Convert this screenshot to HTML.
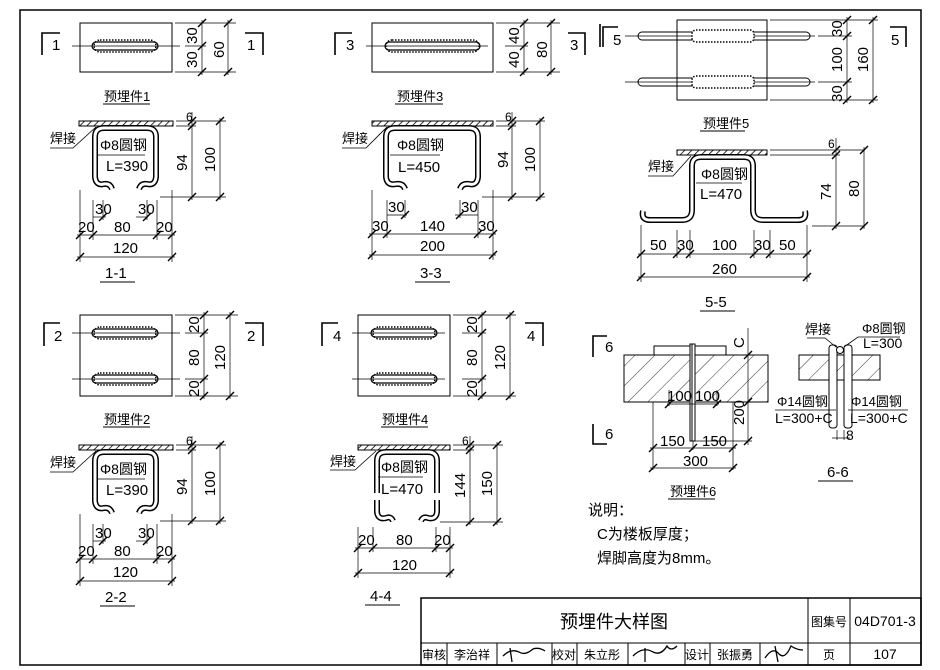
<!DOCTYPE html>
<html><head><meta charset="utf-8"><style>
html,body{margin:0;padding:0;background:#fff;}
svg{display:block;font-family:"Liberation Sans","Noto Sans CJK SC",sans-serif;}
text{fill:#000;}
</style></head><body>
<svg width="940" height="670" viewBox="0 0 940 670" xmlns="http://www.w3.org/2000/svg">
<defs>
<pattern id="hat" width="5" height="5" patternUnits="userSpaceOnUse" patternTransform="rotate(45)"><line x1="0" y1="0" x2="0" y2="5" stroke="#000" stroke-width="1.6"/></pattern>
<pattern id="hat2" width="14" height="14" patternUnits="userSpaceOnUse" patternTransform="rotate(45)"><line x1="0" y1="0" x2="0" y2="14" stroke="#000" stroke-width="0.8"/></pattern>
<symbol id="tk" overflow="visible"><line x1="-4" y1="4" x2="4" y2="-4" stroke="#000" stroke-width="1.4"/></symbol>
</defs>
<g stroke="#000" fill="none" stroke-width="1">
<!-- frame -->
<rect x="20" y="10" width="901" height="655" stroke-width="1.5"/>
<!-- title block -->
<rect x="421" y="598" width="500" height="67" stroke-width="1.5"/>
<line x1="421" y1="643" x2="921" y2="643"/>
<line x1="808" y1="598" x2="808" y2="665"/>
<line x1="850" y1="598" x2="850" y2="665"/>
<line x1="447" y1="643" x2="447" y2="665"/><line x1="497" y1="643" x2="497" y2="665"/><line x1="552" y1="643" x2="552" y2="665"/><line x1="577" y1="643" x2="577" y2="665"/><line x1="628" y1="643" x2="628" y2="665"/><line x1="685" y1="643" x2="685" y2="665"/><line x1="710" y1="643" x2="710" y2="665"/><line x1="760" y1="643" x2="760" y2="665"/>
</g>
<g font-size="18" text-anchor="middle"><text x="614" y="628">预埋件大样图</text></g>
<g font-size="12" text-anchor="middle">
<text x="829" y="626">图集号</text><text x="885" y="626" font-size="14">04D701-3</text>
<text x="434" y="659">审核</text><text x="472" y="659">李治祥</text><text x="564" y="659">校对</text><text x="602" y="659">朱立彤</text><text x="697" y="659">设计</text><text x="735" y="659">张振勇</text><text x="829" y="659">页</text><text x="885" y="659" font-size="14">107</text>
</g>
<g stroke="#000" fill="none" stroke-width="1.3">
<path d="M503 656 q8 -8 16 -4 q6 4 14 -3 q6 -2 12 2 M510 648 l2 14"/>
<path d="M633 656 q10 -10 20 -4 q8 4 14 -6 q4 6 10 0 M645 648 l0 14"/>
<path d="M765 658 q8 -12 14 -4 q6 6 12 -8 q6 4 12 4 M775 646 l3 16"/>
</g>

<!-- ============ PLAN 1 ============ -->
<g stroke="#000" fill="none" stroke-width="1">
<rect x="80" y="23" width="92" height="49"/>
<line x1="72" y1="46" x2="180" y2="46" stroke-width="0.7"/>
<rect x="92" y="42" width="66" height="8" rx="4" stroke-width="1.2"/>
<rect x="94" y="40" width="62" height="12" rx="6" stroke-dasharray="1.5 1.5" stroke-width="1.5"/>
<!-- dims -->
<line x1="175" y1="23" x2="236" y2="23" stroke-width="0.7"/><line x1="175" y1="72" x2="236" y2="72" stroke-width="0.7"/><line x1="185" y1="46" x2="206" y2="46" stroke-width="0.7"/>
<line x1="202" y1="20" x2="202" y2="75" stroke-width="0.7"/><line x1="228" y1="20" x2="228" y2="75" stroke-width="0.7"/>
<!-- markers -->
<path d="M42 55 V33 H60" stroke-width="1.6"/><path d="M263 55 V33 H245" stroke-width="1.6"/>
<line x1="103" y1="104" x2="150" y2="104"/>
</g>
<use href="#tk" x="202" y="23"/><use href="#tk" x="202" y="46"/><use href="#tk" x="202" y="72"/><use href="#tk" x="228" y="23"/><use href="#tk" x="228" y="72"/>
<g font-size="15"><text x="52" y="50">1</text><text x="247" y="50">1</text>
<text transform="translate(197,44) rotate(-90)">30</text><text transform="translate(197,68) rotate(-90)">30</text><text transform="translate(224,58) rotate(-90)">60</text></g>
<text x="104" y="101" font-size="13">预埋件1</text>

<!-- ============ SECTION 1 (reused for 2) ============ -->
<g id="sec1">
<g stroke="#000" fill="none">
<rect x="79" y="121" width="94" height="5" fill="url(#hat)" stroke-width="1"/>
<path d="M112 189 Q110 183 104 184 Q96 186 95 177 L95 137 Q95 128 104 128 L147 128 Q156 128 156 137 L156 177 Q155 186 147 184 Q141 183 139 189" stroke-width="6"/>
<path d="M112 189 Q110 183 104 184 Q96 186 95 177 L95 137 Q95 128 104 128 L147 128 Q156 128 156 137 L156 177 Q155 186 147 184 Q141 183 139 189" stroke="#fff" stroke-width="3"/>
<line x1="97" y1="155" x2="145" y2="155" stroke-width="0.8"/>
<path d="M96 127 L73 148 H50" stroke-width="0.8"/>
<!-- right dims -->
<line x1="176" y1="121" x2="226" y2="121" stroke-width="0.7"/><line x1="176" y1="126" x2="196" y2="126" stroke-width="0.7"/><line x1="160" y1="197" x2="226" y2="197" stroke-width="0.7"/>
<line x1="192" y1="112" x2="192" y2="200" stroke-width="0.7"/><line x1="220" y1="118" x2="220" y2="200" stroke-width="0.7"/>
<!-- bottom dims -->
<line x1="80" y1="190" x2="80" y2="262" stroke-width="0.7"/><line x1="172" y1="190" x2="172" y2="262" stroke-width="0.7"/>
<line x1="93" y1="200" x2="93" y2="240" stroke-width="0.7"/><line x1="103" y1="200" x2="103" y2="220" stroke-width="0.7"/>
<line x1="157" y1="200" x2="157" y2="240" stroke-width="0.7"/><line x1="147" y1="200" x2="147" y2="220" stroke-width="0.7"/>
<line x1="93" y1="217" x2="106" y2="217" stroke-width="0.7"/><line x1="136" y1="217" x2="147" y2="217" stroke-width="0.7"/>
<line x1="77" y1="235" x2="175" y2="235" stroke-width="0.7"/><line x1="77" y1="257" x2="175" y2="257" stroke-width="0.7"/>
</g>
<use href="#tk" x="192" y="121"/><use href="#tk" x="192" y="126"/><use href="#tk" x="192" y="197"/><use href="#tk" x="220" y="121"/><use href="#tk" x="220" y="197"/>
<use href="#tk" x="103" y="217"/><use href="#tk" x="147" y="217"/>
<use href="#tk" x="80" y="235"/><use href="#tk" x="93" y="235"/><use href="#tk" x="157" y="235"/><use href="#tk" x="172" y="235"/><use href="#tk" x="80" y="257"/><use href="#tk" x="172" y="257"/>
<g font-size="15">
<text x="100" y="150" font-size="14">Φ8圆钢</text><text x="106" y="171">L=390</text>
<text transform="translate(187,171) rotate(-90)">94</text><text transform="translate(215,172) rotate(-90)">100</text>
<text x="186" y="121" font-size="12">6</text>
<text x="95" y="214">30</text><text x="138" y="214">30</text>
<text x="78" y="232">20</text><text x="114" y="232">80</text><text x="156" y="232">20</text>
<text x="113" y="253">120</text>
</g>
<text x="50" y="143" font-size="13">焊接</text>
</g>
<line x1="100" y1="282" x2="135" y2="282" stroke="#000"/>
<text x="105" y="278" font-size="15">1-1</text>
<use href="#sec1" y="324"/>
<line x1="100" y1="606" x2="135" y2="606" stroke="#000"/>
<text x="105" y="602" font-size="15">2-2</text>

<!-- ============ PLAN 2 ============ -->
<g stroke="#000" fill="none" stroke-width="1">
<rect x="80" y="315" width="92" height="81"/>
<line x1="72" y1="333" x2="180" y2="333" stroke-width="0.7"/><line x1="72" y1="379" x2="180" y2="379" stroke-width="0.7"/>
<rect x="94" y="327" width="62" height="12" rx="6" stroke-dasharray="1.5 1.5" stroke-width="1.5"/><rect x="92" y="329" width="66" height="8" rx="4" stroke-width="1.2"/>
<rect x="94" y="373" width="62" height="12" rx="6" stroke-dasharray="1.5 1.5" stroke-width="1.5"/><rect x="92" y="375" width="66" height="8" rx="4" stroke-width="1.2"/>
<line x1="175" y1="315" x2="238" y2="315" stroke-width="0.7"/><line x1="175" y1="396" x2="238" y2="396" stroke-width="0.7"/><line x1="185" y1="333" x2="208" y2="333" stroke-width="0.7"/><line x1="185" y1="379" x2="208" y2="379" stroke-width="0.7"/>
<line x1="204" y1="312" x2="204" y2="399" stroke-width="0.7"/><line x1="230" y1="312" x2="230" y2="399" stroke-width="0.7"/>
<path d="M44 346 V323 H60" stroke-width="1.6"/><path d="M263 346 V323 H245" stroke-width="1.6"/>
<line x1="103" y1="427" x2="150" y2="427"/>
</g>
<use href="#tk" x="204" y="315"/><use href="#tk" x="204" y="333"/><use href="#tk" x="204" y="379"/><use href="#tk" x="204" y="396"/><use href="#tk" x="230" y="315"/><use href="#tk" x="230" y="396"/>
<g font-size="15"><text x="54" y="341">2</text><text x="247" y="341">2</text>
<text transform="translate(199,333) rotate(-90)">20</text><text transform="translate(199,366) rotate(-90)">80</text><text transform="translate(199,397) rotate(-90)">20</text><text transform="translate(225,370) rotate(-90)">120</text></g>
<text x="104" y="424" font-size="13">预埋件2</text>

<!-- ============ PLAN 3 ============ -->
<g stroke="#000" fill="none" stroke-width="1">
<rect x="372" y="23" width="121" height="49"/>
<line x1="366" y1="46" x2="488" y2="46" stroke-width="0.7"/>
<rect x="385" y="42" width="95" height="8" rx="4" stroke-width="1.2"/>
<rect x="386" y="40" width="93" height="12" rx="6" stroke-dasharray="1.5 1.5" stroke-width="1.5"/>
<line x1="496" y1="23" x2="560" y2="23" stroke-width="0.7"/><line x1="496" y1="72" x2="560" y2="72" stroke-width="0.7"/><line x1="505" y1="46" x2="528" y2="46" stroke-width="0.7"/>
<line x1="524" y1="20" x2="524" y2="75" stroke-width="0.7"/><line x1="551" y1="20" x2="551" y2="75" stroke-width="0.7"/>
<path d="M335 55 V33 H352" stroke-width="1.6"/><path d="M585 55 V33 H568" stroke-width="1.6"/>
<line x1="395" y1="104" x2="443" y2="104"/>
</g>
<use href="#tk" x="524" y="23"/><use href="#tk" x="524" y="46"/><use href="#tk" x="524" y="72"/><use href="#tk" x="551" y="23"/><use href="#tk" x="551" y="72"/>
<g font-size="15"><text x="346" y="50">3</text><text x="570" y="50">3</text>
<text transform="translate(519,44) rotate(-90)">40</text><text transform="translate(519,68) rotate(-90)">40</text><text transform="translate(547,58) rotate(-90)">80</text></g>
<text x="397" y="101" font-size="13">预埋件3</text>

<!-- ============ SECTION 3 ============ -->
<g stroke="#000" fill="none">
<rect x="372" y="121" width="121" height="5" fill="url(#hat)"/>
<g id="r3"><path d="M405 189 Q403 183 396 184 Q387 186 386 177 L386 137 Q386 128 395 128 L469 128 Q478 128 478 137 L478 177 Q477 186 469 184 Q462 183 460 189" stroke-width="6"/>
<path d="M405 189 Q403 183 396 184 Q387 186 386 177 L386 137 Q386 128 395 128 L469 128 Q478 128 478 137 L478 177 Q477 186 469 184 Q462 183 460 189" stroke="#fff" stroke-width="3"/></g>
<line x1="390" y1="155" x2="440" y2="155" stroke-width="0.8"/>
<path d="M387 127 L366 148 H342" stroke-width="0.8"/>
<line x1="496" y1="121" x2="545" y2="121" stroke-width="0.7"/><line x1="496" y1="126" x2="516" y2="126" stroke-width="0.7"/><line x1="482" y1="197" x2="545" y2="197" stroke-width="0.7"/>
<line x1="512" y1="112" x2="512" y2="200" stroke-width="0.7"/><line x1="540" y1="118" x2="540" y2="200" stroke-width="0.7"/>
<line x1="372" y1="190" x2="372" y2="260" stroke-width="0.7"/><line x1="493" y1="190" x2="493" y2="260" stroke-width="0.7"/>
<line x1="387" y1="200" x2="387" y2="238" stroke-width="0.7"/><line x1="405" y1="200" x2="405" y2="218" stroke-width="0.7"/>
<line x1="478" y1="200" x2="478" y2="238" stroke-width="0.7"/><line x1="460" y1="200" x2="460" y2="218" stroke-width="0.7"/>
<line x1="387" y1="215" x2="407" y2="215" stroke-width="0.7"/><line x1="455" y1="215" x2="478" y2="215" stroke-width="0.7"/>
<line x1="369" y1="234" x2="496" y2="234" stroke-width="0.7"/><line x1="369" y1="255" x2="496" y2="255" stroke-width="0.7"/>
</g>
<use href="#tk" x="512" y="121"/><use href="#tk" x="512" y="126"/><use href="#tk" x="512" y="197"/><use href="#tk" x="540" y="121"/><use href="#tk" x="540" y="197"/>
<use href="#tk" x="405" y="215"/><use href="#tk" x="460" y="215"/>
<use href="#tk" x="372" y="234"/><use href="#tk" x="387" y="234"/><use href="#tk" x="478" y="234"/><use href="#tk" x="493" y="234"/><use href="#tk" x="372" y="255"/><use href="#tk" x="493" y="255"/>
<g font-size="15">
<text x="397" y="150" font-size="14">Φ8圆钢</text><text x="398" y="172">L=450</text>
<text transform="translate(508,168) rotate(-90)">94</text><text transform="translate(535,172) rotate(-90)">100</text>
<text x="505" y="121" font-size="12">6</text>
<text x="388" y="212">30</text><text x="461" y="212">30</text>
<text x="372" y="231">30</text><text x="420" y="231">140</text><text x="478" y="231">30</text>
<text x="420" y="251">200</text>
</g>
<text x="342" y="143" font-size="13">焊接</text>
<line x1="415" y1="282" x2="450" y2="282" stroke="#000"/>
<text x="420" y="278" font-size="15">3-3</text>

<!-- ============ PLAN 4 ============ -->
<g stroke="#000" fill="none" stroke-width="1">
<rect x="358" y="315" width="92" height="81"/>
<line x1="352" y1="333" x2="445" y2="333" stroke-width="0.7"/><line x1="352" y1="379" x2="445" y2="379" stroke-width="0.7"/>
<rect x="373" y="327" width="62" height="12" rx="6" stroke-dasharray="1.5 1.5" stroke-width="1.5"/><rect x="371" y="329" width="66" height="8" rx="4" stroke-width="1.2"/>
<rect x="373" y="373" width="62" height="12" rx="6" stroke-dasharray="1.5 1.5" stroke-width="1.5"/><rect x="371" y="375" width="66" height="8" rx="4" stroke-width="1.2"/>
<line x1="453" y1="315" x2="516" y2="315" stroke-width="0.7"/><line x1="453" y1="396" x2="516" y2="396" stroke-width="0.7"/><line x1="462" y1="333" x2="486" y2="333" stroke-width="0.7"/><line x1="462" y1="379" x2="486" y2="379" stroke-width="0.7"/>
<line x1="482" y1="312" x2="482" y2="399" stroke-width="0.7"/><line x1="510" y1="312" x2="510" y2="399" stroke-width="0.7"/>
<path d="M322 346 V323 H338" stroke-width="1.6"/><path d="M543 346 V323 H525" stroke-width="1.6"/>
<line x1="381" y1="427" x2="428" y2="427"/>
</g>
<use href="#tk" x="482" y="315"/><use href="#tk" x="482" y="333"/><use href="#tk" x="482" y="379"/><use href="#tk" x="482" y="396"/><use href="#tk" x="510" y="315"/><use href="#tk" x="510" y="396"/>
<g font-size="15"><text x="333" y="341">4</text><text x="527" y="341">4</text>
<text transform="translate(477,333) rotate(-90)">20</text><text transform="translate(477,366) rotate(-90)">80</text><text transform="translate(477,397) rotate(-90)">20</text><text transform="translate(505,370) rotate(-90)">120</text></g>
<text x="382" y="424" font-size="13">预埋件4</text>

<!-- ============ SECTION 4 ============ -->
<g stroke="#000" fill="none">
<rect x="358" y="445" width="92" height="5" fill="url(#hat)"/>
<path d="M377 493 L377 461 Q377 452 386 452 L428 452 Q437 452 437 461 L437 493" stroke-width="6"/>
<path d="M377 493 L377 461 Q377 452 386 452 L428 452 Q437 452 437 461 L437 493" stroke="#fff" stroke-width="3"/>
<path d="M377 500 L377 512 Q378 520 386 518 Q391 516 393 521 M437 500 L437 512 Q436 520 428 518 Q423 516 421 521" stroke-width="6"/>
<path d="M377 500 L377 512 Q378 520 386 518 Q391 516 393 521 M437 500 L437 512 Q436 520 428 518 Q423 516 421 521" stroke="#fff" stroke-width="3"/>
<line x1="378" y1="477" x2="423" y2="477" stroke-width="0.8"/>
<path d="M376 451 L355 470 H330" stroke-width="0.8"/>
<line x1="453" y1="445" x2="503" y2="445" stroke-width="0.7"/><line x1="453" y1="450" x2="474" y2="450" stroke-width="0.7"/><line x1="440" y1="522" x2="503" y2="522" stroke-width="0.7"/>
<line x1="470" y1="436" x2="470" y2="525" stroke-width="0.7"/><line x1="497" y1="442" x2="497" y2="525" stroke-width="0.7"/>
<line x1="358" y1="527" x2="358" y2="578" stroke-width="0.7"/><line x1="450" y1="527" x2="450" y2="578" stroke-width="0.7"/>
<line x1="373" y1="527" x2="373" y2="552" stroke-width="0.7"/><line x1="436" y1="527" x2="436" y2="552" stroke-width="0.7"/>
<line x1="355" y1="548" x2="453" y2="548" stroke-width="0.7"/><line x1="355" y1="573" x2="453" y2="573" stroke-width="0.7"/>
</g>
<use href="#tk" x="470" y="445"/><use href="#tk" x="470" y="450"/><use href="#tk" x="470" y="522"/><use href="#tk" x="497" y="445"/><use href="#tk" x="497" y="522"/>
<use href="#tk" x="358" y="548"/><use href="#tk" x="373" y="548"/><use href="#tk" x="436" y="548"/><use href="#tk" x="450" y="548"/><use href="#tk" x="358" y="573"/><use href="#tk" x="450" y="573"/>
<g font-size="15">
<text x="381" y="472" font-size="14">Φ8圆钢</text><text x="381" y="494">L=470</text>
<text transform="translate(465,498) rotate(-90)">144</text><text transform="translate(492,496) rotate(-90)">150</text>
<text x="462" y="445" font-size="12">6</text>
<text x="358" y="545">20</text><text x="396" y="545">80</text><text x="434" y="545">20</text>
<text x="392" y="570">120</text>
</g>
<text x="330" y="466" font-size="13">焊接</text>
<line x1="365" y1="605" x2="400" y2="605" stroke="#000"/>
<text x="370" y="601" font-size="15">4-4</text>

<!-- ============ PLAN 5 ============ -->
<g stroke="#000" fill="none" stroke-width="1">
<rect x="677" y="20" width="90" height="80"/>
<line x1="625" y1="36" x2="815" y2="36" stroke-width="0.7"/><line x1="625" y1="82" x2="815" y2="82" stroke-width="0.7"/>
<rect x="638" y="32" width="172" height="8" rx="4"/><rect x="638" y="78" width="172" height="8" rx="4"/>
<rect x="692" y="30" width="62" height="12" rx="4" fill="#fff" stroke-dasharray="1.5 1.5" stroke-width="1.5"/><rect x="692" y="76" width="62" height="12" rx="4" fill="#fff" stroke-dasharray="1.5 1.5" stroke-width="1.5"/>
<line x1="770" y1="20" x2="878" y2="20" stroke-width="0.7"/><line x1="770" y1="100" x2="878" y2="100" stroke-width="0.7"/><line x1="818" y1="36" x2="852" y2="36" stroke-width="0.7"/><line x1="818" y1="82" x2="852" y2="82" stroke-width="0.7"/>
<line x1="847" y1="17" x2="847" y2="103" stroke-width="0.7"/><line x1="873" y1="17" x2="873" y2="103" stroke-width="0.7"/>
<path d="M600 47 V24 M603 47 V27 H618" stroke-width="1.6"/><path d="M906 47 V27 H890" stroke-width="1.6"/>
<line x1="700" y1="131" x2="745" y2="131"/>
</g>
<use href="#tk" x="847" y="20"/><use href="#tk" x="847" y="36"/><use href="#tk" x="847" y="82"/><use href="#tk" x="847" y="100"/><use href="#tk" x="873" y="20"/><use href="#tk" x="873" y="100"/>
<g font-size="15"><text x="613" y="45">5</text><text x="891" y="45">5</text>
<text transform="translate(842,37) rotate(-90)">30</text><text transform="translate(842,72) rotate(-90)">100</text><text transform="translate(842,102) rotate(-90)">30</text><text transform="translate(868,72) rotate(-90)">160</text></g>
<text x="703" y="128" font-size="13">预埋件5</text>

<!-- ============ SECTION 5 ============ -->
<g stroke="#000" fill="none">
<rect x="677" y="150" width="90" height="5" fill="url(#hat)"/>
<path d="M643 211 Q641 220 650 220 L682 220 Q692 220 692 210 L692 166 Q692 157 701 157 L744 157 Q753 157 753 166 L753 210 Q753 220 763 220 L798 220 Q807 220 805 211" stroke-width="6"/>
<path d="M643 211 Q641 220 650 220 L682 220 Q692 220 692 210 L692 166 Q692 157 701 157 L744 157 Q753 157 753 166 L753 210 Q753 220 763 220 L798 220 Q807 220 805 211" stroke="#fff" stroke-width="3"/>
<line x1="696" y1="183" x2="742" y2="183" stroke-width="0.8"/>
<path d="M691 156 L673 176 H648" stroke-width="0.8"/>
<line x1="770" y1="150" x2="865" y2="150" stroke-width="0.7"/><line x1="770" y1="155" x2="840" y2="155" stroke-width="0.7"/><line x1="812" y1="226" x2="865" y2="226" stroke-width="0.7"/>
<line x1="836" y1="138" x2="836" y2="229" stroke-width="0.7"/><line x1="864" y1="147" x2="864" y2="229" stroke-width="0.7"/>
<line x1="641" y1="225" x2="641" y2="282" stroke-width="0.7"/><line x1="807" y1="225" x2="807" y2="282" stroke-width="0.7"/>
<line x1="677" y1="230" x2="677" y2="258" stroke-width="0.7"/><line x1="690" y1="230" x2="690" y2="258" stroke-width="0.7"/><line x1="754" y1="230" x2="754" y2="258" stroke-width="0.7"/><line x1="770" y1="230" x2="770" y2="258" stroke-width="0.7"/>
<line x1="638" y1="254" x2="810" y2="254" stroke-width="0.7"/><line x1="638" y1="277" x2="810" y2="277" stroke-width="0.7"/>
</g>
<use href="#tk" x="836" y="150"/><use href="#tk" x="836" y="155"/><use href="#tk" x="836" y="226"/><use href="#tk" x="864" y="150"/><use href="#tk" x="864" y="226"/>
<use href="#tk" x="641" y="254"/><use href="#tk" x="677" y="254"/><use href="#tk" x="690" y="254"/><use href="#tk" x="754" y="254"/><use href="#tk" x="770" y="254"/><use href="#tk" x="807" y="254"/><use href="#tk" x="641" y="277"/><use href="#tk" x="807" y="277"/>
<g font-size="15">
<text x="701" y="179" font-size="14">Φ8圆钢</text><text x="700" y="199">L=470</text>
<text transform="translate(831,200) rotate(-90)">74</text><text transform="translate(859,197) rotate(-90)">80</text>
<text x="828" y="148" font-size="12">6</text>
<text x="650" y="250">50</text><text x="677" y="250">30</text><text x="712" y="250">100</text><text x="754" y="250">30</text><text x="779" y="250">50</text>
<text x="712" y="274">260</text>
</g>
<text x="648" y="171" font-size="13">焊接</text>
<line x1="700" y1="311" x2="735" y2="311" stroke="#000"/>
<text x="705" y="307" font-size="15">5-5</text>

<!-- ============ 预埋件6 ============ -->
<g stroke="#000" fill="none">
<rect x="624" y="355" width="144" height="47" fill="url(#hat2)"/>
<rect x="654" y="346" width="72" height="9" fill="#fff"/>
<line x1="668" y1="346" x2="718" y2="346"/>
<rect x="690" y="344" width="5" height="97" fill="#fff"/><line x1="692" y1="344" x2="692" y2="441"/>
<line x1="653" y1="402" x2="653" y2="470" stroke-width="0.7"/><line x1="733" y1="402" x2="733" y2="470" stroke-width="0.7"/><line x1="693" y1="441" x2="693" y2="450" stroke-width="0.7"/>
<line x1="695" y1="441" x2="752" y2="441" stroke-width="0.7"/><line x1="748" y1="328" x2="748" y2="445" stroke-width="0.7"/><line x1="728" y1="355" x2="755" y2="355" stroke-width="0.7"/><line x1="728" y1="402" x2="755" y2="402" stroke-width="0.7"/>
<line x1="667" y1="404" x2="719" y2="404" stroke-width="0.7"/><line x1="669" y1="390" x2="669" y2="406" stroke-width="0.7"/><line x1="717" y1="390" x2="717" y2="406" stroke-width="0.7"/>
<line x1="650" y1="448" x2="736" y2="448" stroke-width="0.7"/><line x1="650" y1="468" x2="736" y2="468" stroke-width="0.7"/>
<path d="M593 357 V336 H607" stroke-width="1.6"/><path d="M593 424 V444 H607" stroke-width="1.6"/>
<line x1="668" y1="499" x2="715" y2="499"/>
</g>
<use href="#tk" x="748" y="355"/><use href="#tk" x="748" y="402"/><use href="#tk" x="748" y="441"/><use href="#tk" x="669" y="404"/><use href="#tk" x="717" y="404"/>
<use href="#tk" x="653" y="448"/><use href="#tk" x="693" y="448"/><use href="#tk" x="733" y="448"/><use href="#tk" x="653" y="468"/><use href="#tk" x="733" y="468"/>
<g font-size="15">
<text x="605" y="352">6</text><text x="605" y="439">6</text>
<text transform="translate(744,348) rotate(-90)">C</text>
<text x="667" y="401">100</text><text x="695" y="401">100</text>
<text transform="translate(744,425) rotate(-90)">200</text>
<text x="660" y="446">150</text><text x="702" y="446">150</text><text x="683" y="466">300</text>
</g>
<text x="670" y="496" font-size="13">预埋件6</text>

<!-- ============ 6-6 ============ -->
<g stroke="#000" fill="none">
<rect x="799" y="355" width="81" height="25" fill="url(#hat2)"/>
<rect x="829" y="345" width="8" height="83" rx="3" fill="#fff"/><rect x="844" y="345" width="8" height="83" rx="3" fill="#fff"/>
<circle cx="840" cy="350" r="3.5" fill="#fff"/>
<path d="M836 347 L825 338 H807" stroke-width="0.8"/><path d="M844 347 L858 337 H900" stroke-width="0.8"/>
<line x1="775" y1="410" x2="836" y2="410" stroke-width="0.8"/><line x1="848" y1="410" x2="908" y2="410" stroke-width="0.8"/>
<line x1="837" y1="430" x2="837" y2="440" stroke-width="0.7"/><line x1="844" y1="430" x2="844" y2="440" stroke-width="0.7"/><line x1="832" y1="438" x2="850" y2="438" stroke-width="0.7"/>
<line x1="818" y1="481" x2="853" y2="481"/>
</g>
<g font-size="13">
<text x="805" y="334">焊接</text><text x="862" y="333">Φ8圆钢</text><text x="863" y="348" font-size="14">L=300</text>
<text x="777" y="406">Φ14圆钢</text><text x="775" y="423" font-size="14">L=300+C</text>
<text x="851" y="406">Φ14圆钢</text><text x="850" y="423" font-size="14">L=300+C</text>
<text x="846" y="440" font-size="14">8</text>
<text x="827" y="477" font-size="15">6-6</text>
</g>

<!-- notes -->
<g font-size="15">
<text x="588" y="515">说明：</text>
<text x="597" y="539">C为楼板厚度；</text>
<text x="597" y="563">焊脚高度为8mm。</text>
</g>
</svg>
</body></html>
